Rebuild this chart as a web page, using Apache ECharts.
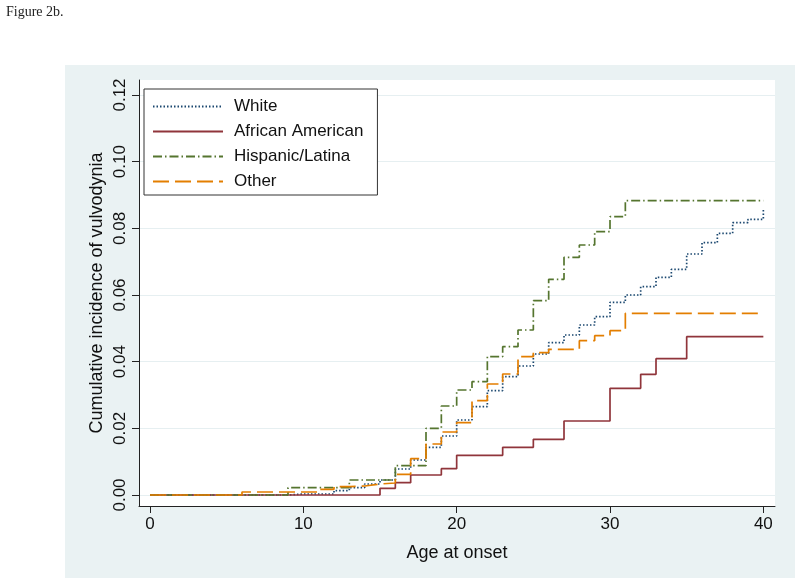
<!DOCTYPE html>
<html><head><meta charset="utf-8">
<script src="https://cdn.jsdelivr.net/npm/echarts@6/dist/echarts.min.js"></script>
<style>html,body{margin:0;padding:0;background:#fff}#c{width:800px;height:582px}</style>
</head><body><div id="c"></div>
<script>
// Age at onset (value holds from this age until the next)
const ages = [0,1,2,3,4,5,6,7,8,9,10,11,12,13,14,15,16,17,18,19,20,21,22,23,24,25,26,27,28,29,30,31,32,33,34,35,36,37,38,39,40];
const white = [0,0,0,0,0,0,0,0,0,0.0003,0.0003,0.0003,0.0013,0.0022,0.0033,0.0045,0.0078,0.0105,0.0143,0.0177,0.0225,0.0265,0.0313,0.0355,0.0387,0.0423,0.0457,0.0480,0.0510,0.0535,0.0578,0.0600,0.0625,0.0653,0.0677,0.0723,0.0757,0.0785,0.0817,0.0827,0.0857];
const africanAmerican = [0,0,0,0,0,0,0,0,0,0,0,0,0,0,0,0.0020,0.0037,0.0060,0.0060,0.0079,0.0119,0.0119,0.0119,0.0143,0.0143,0.0167,0.0167,0.0222,0.0222,0.0222,0.0320,0.0320,0.0362,0.0409,0.0409,0.0475,0.0475,0.0475,0.0475,0.0475,0.0475];
const hispanic = [0,0,0,0,0,0,0,0,0,0.0022,0.0022,0.0022,0.0022,0.0045,0.0045,0.0045,0.0088,0.0088,0.0200,0.0267,0.0315,0.0340,0.0415,0.0445,0.0495,0.0583,0.0647,0.0713,0.0750,0.0790,0.0835,0.0883,0.0883,0.0883,0.0883,0.0883,0.0883,0.0883,0.0883,0.0883,0.0883];
const other = [0,0,0,0,0,0,0.0009,0.0009,0.0009,0.0009,0.0009,0.0017,0.0025,0.0027,0.0033,0.0036,0.0062,0.0109,0.0153,0.0189,0.0217,0.0283,0.0333,0.0363,0.0415,0.0427,0.0437,0.0437,0.0463,0.0478,0.0493,0.0545,0.0545,0.0545,0.0545,0.0545,0.0545,0.0545,0.0545,0.0545,0.0545];
const seriesNames = ['White','African American','Hispanic/Latina','Other'];
const xTicks = [0,10,20,30,40];
const yTicks = [0,0.02,0.04,0.06,0.08,0.10,0.12];

const FONT = "'Liberation Sans', Arial, sans-serif";
const chart = echarts.init(document.getElementById('c'), null, {renderer:'canvas'});
const pts = arr => ages.map((a,i)=>[a, arr[i]]);
function mkSeries(name, arr, color, type, width){
  return {name, type:'line', step:'end', symbol:'none', showSymbol:false, data:pts(arr),
    lineStyle:{color, width, type}, itemStyle:{color}, emphasis:{disabled:true}, animation:false};
}
chart.setOption({
  animation:false,
  backgroundColor:'#ffffff',
  title:{text:'Figure 2b.', left:6, top:5, padding:0, textStyle:{fontFamily:"'Liberation Serif', 'Times New Roman', serif", fontSize:14, fontWeight:'normal', color:'#222'}},
  graphic:[{type:'rect', z:-10, silent:true, shape:{x:65,y:65,width:730,height:513}, style:{fill:'#eaf2f3'}}],
  grid:{left:139, right:25, top:80, bottom:76, show:true, backgroundColor:'#ffffff', borderWidth:0, containLabel:false},
  legend:{orient:'vertical', left:144, top:89, data:seriesNames, itemWidth:70, itemHeight:14, itemGap:8,
    padding:[9,14,5,8], backgroundColor:'#ffffff', borderColor:'#333', borderWidth:1, borderRadius:0,
    itemStyle:{opacity:0, borderWidth:0},
    textStyle:{fontFamily:FONT, fontSize:17, color:'#111', lineHeight:17, padding:[0,0,0,6]}},
  xAxis:{type:'value', min:-0.717, max:40.76, name:'Age at onset', nameLocation:'middle', nameGap:38,
    nameTextStyle:{fontFamily:FONT, fontSize:18, color:'#111'},
    axisLine:{show:true, onZero:false, lineStyle:{color:'#222', width:1}},
    axisTick:{show:true, length:7, customValues:xTicks, lineStyle:{color:'#222'}},
    axisLabel:{customValues:xTicks, fontFamily:FONT, fontSize:17, color:'#111', margin:10},
    splitLine:{show:false}},
  yAxis:{type:'value', min:-0.0033, max:0.1245, name:'Cumulative incidence of vulvodynia', nameLocation:'middle', nameGap:33, nameMoveOverlap:false,
    nameTextStyle:{fontFamily:FONT, fontSize:18, color:'#111'},
    axisLine:{show:true, onZero:false, lineStyle:{color:'#222', width:1}},
    axisTick:{show:true, length:7, customValues:yTicks, lineStyle:{color:'#222'}},
    axisLabel:{customValues:yTicks, rotate:90, fontFamily:FONT, fontSize:17, color:'#111', margin:10, formatter:v=>v.toFixed(2)},
    splitLine:{show:true, lineStyle:{color:'#e6eff1', width:1}}},
  series:[
    mkSeries('White', white, '#1a476f', [1.5,2], 1.7),
    mkSeries('African American', africanAmerican, '#90353b', 'solid', 1.7),
    mkSeries('Hispanic/Latina', hispanic, '#55752f', [9,3,1.5,3], 1.7),
    mkSeries('Other', other, '#e37e00', [16,6], 1.7)
  ]
});
</script></body></html>
